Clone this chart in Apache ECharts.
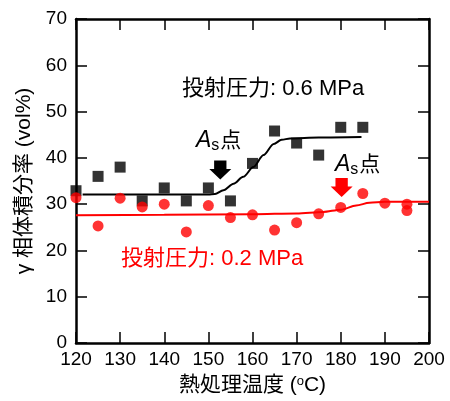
<!DOCTYPE html>
<html>
<head>
<meta charset="utf-8">
<script src="https://cdn.jsdelivr.net/npm/echarts@6/dist/echarts.min.js"></script>
<style>html,body{margin:0;padding:0;background:#fff}#c{width:450px;height:401px}</style>
</head>
<body>
<div id="c"></div>
<script>
// Data
const blackTemps = [120,125,130,135,140,145,150,155,160,165,170,175,180,185];
const blackVals  = [32.9,36.0,38.0,30.7,33.5,30.7,33.5,30.7,38.8,45.8,43.2,40.6,46.6,46.6];
const redTemps = [120,125,130,135,140,145,150,155,160,165,170,175,180,185,190,195,195];
const redVals  = [31.4,25.3,31.3,29.4,30.0,24.0,29.7,27.1,27.7,24.4,26.0,27.9,29.3,32.3,30.2,30.0,28.6];
const blackFitT = [121.5,150,151.5,153.4,155.7,157.9,160.2,162.5,164.8,166.6,168.5,175,184.7];
const blackFitV = [32.1,32.1,32.2,33.0,34.4,35.9,38.0,40.6,43.0,43.9,44.2,44.4,44.5];
const redFitT = [120,140,160,170,176,180,183.5,186.5,190,200];
const redFitV = [27.6,27.7,27.8,28.0,28.3,28.8,29.7,30.3,30.5,30.5];
const arrowPts = [[152.7,37.4],[180.2,33.6]];
const xTicks = {min:120,max:200,interval:10};
const yTicks = {min:0,max:70,interval:10};

const zip = (a,b)=>a.map((v,i)=>[v,b[i]]);
const FONT = '"Liberation Sans","Noto Sans CJK JP",sans-serif';
const arrowPath = 'path://M22,0 L78,0 L78,45 L100,45 L50,100 L0,45 L22,45 Z';

const axisCommon = {
  type:'value', splitLine:{show:false},
  axisLine:{show:true,onZero:false,lineStyle:{color:'#000',width:2.5}},
  axisTick:{show:true,inside:true,length:11,lineStyle:{color:'#000',width:1.5}}
};

const chart = echarts.init(document.getElementById('c'),null,{renderer:'canvas'});
chart.setOption({
  animation:false,
  backgroundColor:'#fff',
  grid:{left:76,right:21,top:19,bottom:58,containLabel:false},
  xAxis:[
    Object.assign({},axisCommon,{position:'bottom',min:xTicks.min,max:xTicks.max,interval:xTicks.interval,
      axisLabel:{color:'#000',fontSize:19,fontFamily:FONT,margin:7},
      name:'熱処理温度 ({sup|o}C)',nameLocation:'middle',nameGap:32,
      nameTextStyle:{color:'#000',fontSize:21,fontFamily:FONT,
        rich:{sup:{fontSize:13,fontFamily:FONT,color:'#000',verticalAlign:'top',padding:[0,0,8,0]}}}}),
    Object.assign({},axisCommon,{position:'top',min:xTicks.min,max:xTicks.max,interval:xTicks.interval,
      axisLabel:{show:false}})
  ],
  yAxis:[
    Object.assign({},axisCommon,{position:'left',min:yTicks.min,max:yTicks.max,interval:yTicks.interval,
      axisLabel:{color:'#000',fontSize:19,fontFamily:FONT,margin:9},
      name:'γ 相体積分率 (vol%)',nameLocation:'middle',nameGap:40,nameRotate:90,
      nameTextStyle:{color:'#000',fontSize:21,fontFamily:FONT}}),
    Object.assign({},axisCommon,{position:'right',min:yTicks.min,max:yTicks.max,interval:yTicks.interval,
      axisLabel:{show:false}})
  ],
  series:[
    {type:'line',data:zip(blackFitT,blackFitV),smooth:0.3,smoothMonotone:'x',showSymbol:false,symbol:'none',
      lineStyle:{color:'#000',width:2},z:2,silent:true},
    {type:'line',data:zip(redFitT,redFitV),smooth:0.3,smoothMonotone:'x',showSymbol:false,symbol:'none',
      lineStyle:{color:'#ff0000',width:2},z:2,silent:true},
    {type:'scatter',data:zip(blackTemps,blackVals),symbol:'rect',symbolSize:11,
      itemStyle:{color:'#000'},z:3},
    {type:'scatter',data:zip(redTemps,redVals),symbol:'circle',symbolSize:11,
      itemStyle:{color:'#ff0000'},z:3},
    {type:'scatter',symbol:arrowPath,symbolSize:[22,19],z:4,silent:true,
      itemStyle:{borderWidth:0,opacity:1},
      data:[{value:arrowPts[0],itemStyle:{color:'#000',borderWidth:0}},{value:arrowPts[1],itemStyle:{color:'#ff0000',borderWidth:0}}]}
  ],
  graphic:[
    {type:'text',x:182,y:89,style:{text:'投射圧力: 0.6 MPa',fill:'#000',font:'22px '+FONT,textVerticalAlign:'middle'}},
    {type:'text',x:121,y:259,style:{text:'投射圧力: 0.2 MPa',fill:'#ff0000',font:'22px '+FONT,textVerticalAlign:'middle'}},
    {type:'text',x:196,y:141,style:{text:'{a|A}{s|s}{b|点}',textVerticalAlign:'middle',
      rich:{a:{fontSize:23,fontStyle:'italic',fontFamily:FONT,color:'#000'},
            s:{fontSize:16,fontFamily:FONT,color:'#000',verticalAlign:'bottom',padding:[10,1,0,0]},
            b:{fontSize:21,fontFamily:FONT,color:'#000'}}}},
    {type:'text',x:335,y:165,style:{text:'{a|A}{s|s}{b|点}',textVerticalAlign:'middle',
      rich:{a:{fontSize:23,fontStyle:'italic',fontFamily:FONT,color:'#ff0000'},
            s:{fontSize:16,fontFamily:FONT,color:'#ff0000',verticalAlign:'bottom',padding:[10,1,0,0]},
            b:{fontSize:21,fontFamily:FONT,color:'#ff0000'}}}}
  ]
});
</script>
</body>
</html>
